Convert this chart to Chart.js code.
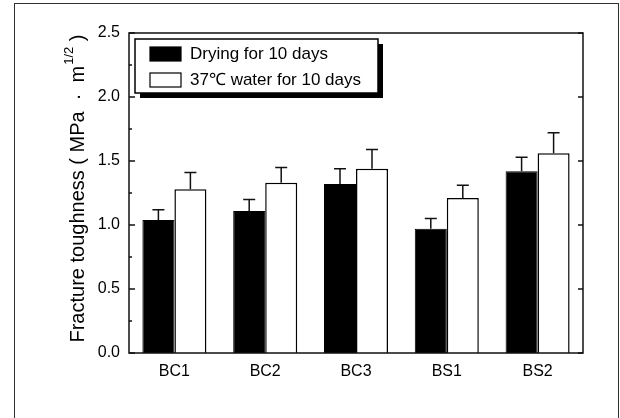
<!DOCTYPE html>
<html>
<head>
<meta charset="utf-8">
<script src="https://cdn.jsdelivr.net/npm/chart.js@4.4.1/dist/chart.umd.min.js"></script>
<style>
  html, body { margin: 0; padding: 0; background: #fff; }
  canvas { display: block; }
</style>
</head>
<body>
<canvas id="c" width="620" height="418"></canvas>
<script>
const categories = ['BC1', 'BC2', 'BC3', 'BS1', 'BS2'];
const dryingValues = [1.04, 1.11, 1.32, 0.97, 1.42];
const dryingErrors = [0.08, 0.09, 0.12, 0.08, 0.11];
const waterValues = [1.28, 1.33, 1.44, 1.21, 1.56];
const waterErrors = [0.13, 0.12, 0.15, 0.10, 0.16];
const yTicks = [0, 0.5, 1.0, 1.5, 2.0, 2.5];
const yMinorTicks = [0.25, 0.75, 1.25, 1.75, 2.25];
const seriesLabels = ['Drying for 10 days', '37\u2103 water for 10 days'];
const yTitleMain = 'Fracture toughness ( MPa  \u00B7  m';
const yTitleSup = '1/2';
const yTitleEnd = ' )';

const FONT = '"Liberation Sans", Arial, sans-serif';
const errors = [dryingErrors, waterErrors];

const decor = {
  id: 'decor',
  afterDatasetsDraw(chart) {
    const ctx = chart.ctx;
    const ca = chart.chartArea;
    const ys = chart.scales.y;
    ctx.save();
    // error bars (upward only)
    ctx.strokeStyle = '#111';
    ctx.lineWidth = 1.5;
    chart.data.datasets.forEach((ds, di) => {
      const meta = chart.getDatasetMeta(di);
      meta.data.forEach((bar, i) => {
        const top = ys.getPixelForValue(ds.data[i] + errors[di][i]);
        const y0 = ys.getPixelForValue(ds.data[i]);
        ctx.beginPath();
        ctx.moveTo(bar.x, y0);
        ctx.lineTo(bar.x, top);
        ctx.moveTo(bar.x - 6, top);
        ctx.lineTo(bar.x + 6, top);
        ctx.stroke();
      });
    });
    // axes box
    ctx.lineWidth = 1.5;
    ctx.strokeStyle = '#111';
    ctx.strokeRect(ca.left, ca.top, ca.right - ca.left, ca.bottom - ca.top);
    // ticks
    ctx.beginPath();
    yTicks.forEach(v => {
      const y = ys.getPixelForValue(v);
      ctx.moveTo(ca.left, y); ctx.lineTo(ca.left + 6, y);
      ctx.moveTo(ca.right, y); ctx.lineTo(ca.right - 5, y);
    });
    yMinorTicks.forEach(v => {
      const y = ys.getPixelForValue(v);
      ctx.moveTo(ca.left, y); ctx.lineTo(ca.left + 3, y);
    });
    ctx.stroke();

    // legend
    const lx = ca.left + 6, ly = ca.top + 6, lw = 243, lh = 54;
    ctx.fillStyle = '#000';
    ctx.fillRect(lx + 5, ly + 5, lw, lh);
    ctx.fillStyle = '#fff';
    ctx.fillRect(lx, ly, lw, lh);
    ctx.lineWidth = 1.5;
    ctx.strokeStyle = '#000';
    ctx.strokeRect(lx, ly, lw, lh);
    chart.data.datasets.forEach((ds, di) => {
      const sy = ly + 8 + di * 26;
      ctx.fillStyle = ds.backgroundColor;
      ctx.fillRect(lx + 15, sy, 31, 14);
      ctx.lineWidth = 1.2;
      ctx.strokeStyle = '#000';
      ctx.strokeRect(lx + 15, sy, 31, 14);
      ctx.fillStyle = '#000';
      ctx.font = '17px ' + FONT;
      ctx.textBaseline = 'middle';
      ctx.textAlign = 'left';
      ctx.fillText(seriesLabels[di], lx + 55, sy + 7);
    });

    // y title with superscript
    ctx.save();
    ctx.translate(78, (ca.top + ca.bottom) / 2 - 4);
    ctx.rotate(-Math.PI / 2);
    ctx.fillStyle = '#000';
    ctx.textBaseline = 'middle';
    ctx.textAlign = 'left';
    const mainFont = '20px ' + FONT, supFont = '13px ' + FONT;
    ctx.font = mainFont;
    const w1 = ctx.measureText(yTitleMain).width;
    const w3 = ctx.measureText(yTitleEnd).width;
    ctx.font = supFont;
    const w2 = ctx.measureText(yTitleSup).width;
    let x = -(w1 + w2 + w3) / 2;
    ctx.font = mainFont;
    ctx.fillText(yTitleMain, x, 0); x += w1;
    ctx.font = supFont;
    ctx.fillText(yTitleSup, x + 1, -9); x += w2 + 1;
    ctx.font = mainFont;
    ctx.fillText(yTitleEnd, x, 0);
    ctx.restore();

    // outer frame
    ctx.lineWidth = 1;
    ctx.strokeStyle = '#333';
    ctx.strokeRect(14.5, 3.5, 604, 430);
    ctx.restore();
  }
};

new Chart(document.getElementById('c'), {
  type: 'bar',
  data: {
    labels: categories,
    datasets: [
      { label: seriesLabels[0], data: dryingValues, backgroundColor: '#000', borderColor: '#000', borderWidth: 1 },
      { label: seriesLabels[1], data: waterValues, backgroundColor: '#fff', borderColor: '#000', borderWidth: 1.5 }
    ]
  },
  options: {
    responsive: false,
    animation: false,
    devicePixelRatio: 1,
    categoryPercentage: 0.705,
    barPercentage: 1.0,
    layout: { padding: { left: 0, top: 33, right: 37, bottom: 0 } },
    plugins: { legend: { display: false }, tooltip: { enabled: false } },
    scales: {
      x: {
        grid: { display: false, drawTicks: false },
        border: { display: false },
        ticks: { color: '#000', font: { family: FONT, size: 16 }, padding: 9 },
        afterFit(s) { s.height = 65; }
      },
      y: {
        min: 0, max: 2.5,
        grid: { display: false, drawTicks: false },
        border: { display: false },
        afterBuildTicks(s) { s.ticks = yTicks.map(v => ({ value: v })); },
        ticks: { color: '#000', font: { family: FONT, size: 16 }, padding: 9, callback: v => Number(v).toFixed(1) },
        afterFit(s) { s.width = 129; }
      }
    }
  },
  plugins: [decor]
});
</script>
</body>
</html>
